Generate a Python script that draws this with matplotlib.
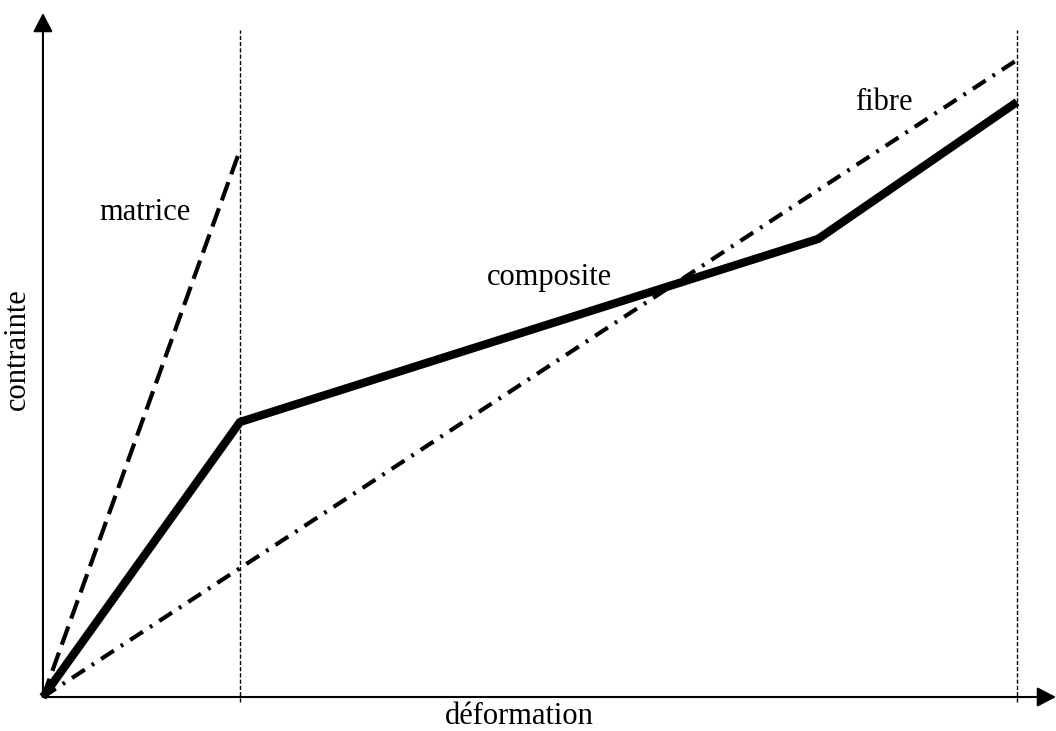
import matplotlib
matplotlib.use("Agg")
import matplotlib.pyplot as plt

plt.rcParams['font.family'] = ['Liberation Serif', 'DejaVu Serif']
plt.rcParams['lines.scale_dashes'] = False

# strain (x) / stress (y) in arbitrary units
matrice_x = [0.0, 1.0]
matrice_y = [0.0, 5.47]
composite_x = [0.0, 1.0, 3.934, 4.944]
composite_y = [0.0, 2.75, 4.58, 5.95]
fibre_x = [0.0, 4.944]
fibre_y = [0.0, 6.37]
limits_x = [1.0, 4.944]   # rupture matrice / rupture fibre

fig = plt.figure(figsize=(10.56, 7.31), dpi=100)
ax = fig.add_axes([0, 0, 1, 1])
ax.set_xlim(-0.218, 5.142)
ax.set_ylim(-0.34, 6.97)
ax.axis('off')

# axes with arrows
arrow = dict(arrowstyle='-|>,head_length=1.15,head_width=0.6', lw=1.5, color='black',
             shrinkA=0, shrinkB=0)
ax.annotate('', xy=(5.142, 0), xytext=(0, 0), arrowprops=arrow)
ax.annotate('', xy=(0, 6.84), xytext=(0, 0), arrowprops=arrow)

# vertical limit lines
for xv in limits_x:
    ax.plot([xv, xv], [-0.05, 6.67], color='black', lw=1.0, dashes=(3, 1.5))

ax.plot(matrice_x, matrice_y, color='black', lw=3, dashes=(14, 6))
ax.plot(fibre_x, fibre_y, color='black', lw=3, dashes=(11, 6, 2, 6))
ax.plot(composite_x, composite_y, color='black', lw=6, solid_joinstyle='round',
        solid_capstyle='butt')

ax.text(0.52, 4.84, 'matrice', fontsize=22, ha='center', va='center')
ax.text(2.57, 4.20, 'composite', fontsize=22, ha='center', va='center')
ax.text(4.27, 5.95, 'fibre', fontsize=22, ha='center', va='center')
ax.text(-0.13, 3.48, 'contrainte', fontsize=22, ha='center', va='center', rotation=90)
ax.text(2.42, -0.265, 'déformation', fontsize=22, ha='center', va='baseline')

fig.savefig('out.png', dpi=100)
